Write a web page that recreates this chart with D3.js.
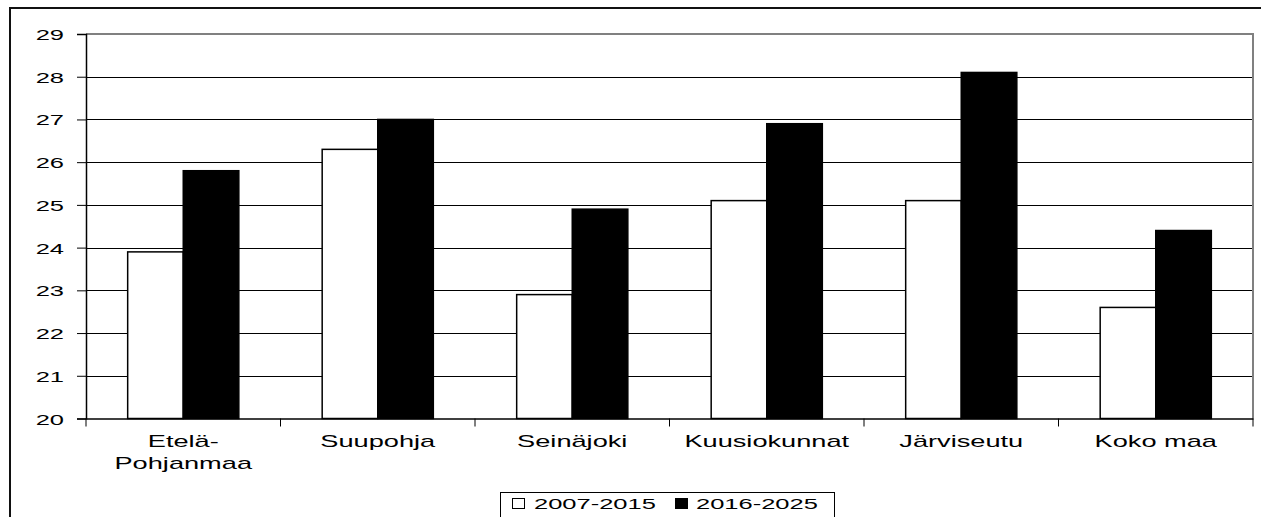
<!DOCTYPE html>
<html>
<head>
<meta charset="utf-8">
<script src="https://cdn.jsdelivr.net/npm/d3@7"></script>
<style>
  html, body { margin: 0; padding: 0; background: #fff; }
  svg { display: block; }
  text { font-family: "Liberation Sans", Arial, sans-serif; fill: #000; }
</style>
</head>
<body>
<svg id="chart" width="1261" height="517"></svg>
<script>
const categories = ["Etelä-\nPohjanmaa", "Suupohja", "Seinäjoki", "Kuusiokunnat", "Järviseutu", "Koko maa"];
const seriesNames = ["2007-2015", "2016-2025"];
const values2007_2015 = [23.9, 26.3, 22.9, 25.1, 25.1, 22.6];
const values2016_2025 = [25.8, 27.0, 24.9, 26.9, 28.1, 24.4];
const yTicks = [20, 21, 22, 23, 24, 25, 26, 27, 28, 29];
const seriesValues = [values2007_2015, values2016_2025];
const seriesFill = ["#ffffff", "#000000"];

const svg = d3.select("#chart");
const SX = 1.7; // horizontal stretch of the original text rendering

const plot = { left: 86, right: 1253, top: 34, bottom: 418.5 };

// outer frame (top and left edges visible)
svg.append("line").attr("x1", 10).attr("x2", 1261).attr("y1", 8).attr("y2", 8)
  .attr("stroke", "#111").attr("stroke-width", 2);
svg.append("line").attr("x1", 10).attr("x2", 10).attr("y1", 7).attr("y2", 517)
  .attr("stroke", "#111").attr("stroke-width", 2);

const y = d3.scaleLinear().domain([20, 29]).range([plot.bottom, plot.top]);
const x0 = d3.scaleBand().domain(categories).range([plot.left, plot.right]).padding(0);
const bw = x0.bandwidth() / 3.5;
const x1 = d3.scaleBand().domain(seriesNames).range([0.75 * bw, 2.75 * bw]).padding(0);

// gridlines
svg.append("g").selectAll("line").data(yTicks.filter(t => t > 20 && t < 29)).join("line")
  .attr("x1", plot.left).attr("x2", plot.right)
  .attr("y1", d => Math.round(y(d)) + 0.5).attr("y2", d => Math.round(y(d)) + 0.5)
  .attr("stroke", "#000").attr("stroke-width", 1);

// plot border top & right (gray)
svg.append("path")
  .attr("d", `M${plot.left},${plot.top} H${plot.right} V${plot.bottom}`)
  .attr("fill", "none").attr("stroke", "#808080").attr("stroke-width", 2);

// bars
categories.forEach((c, i) => {
  seriesNames.forEach((s, j) => {
    const v = seriesValues[j][i];
    svg.append("rect")
      .attr("x", x0(c) + x1(s))
      .attr("y", y(v))
      .attr("width", x1.bandwidth())
      .attr("height", y(20) - y(v))
      .attr("fill", seriesFill[j])
      .attr("stroke", "#000")
      .attr("stroke-width", 1.5);
  });
});

// y axis
const yAxis = d3.axisLeft(y).tickValues(yTicks).tickSize(9).tickFormat(d3.format("d"));
const gy = svg.append("g").attr("transform", `translate(${plot.left},0)`).call(yAxis);
gy.select(".domain").attr("stroke", "#000").attr("stroke-width", 1.5);
gy.selectAll(".tick line").attr("stroke", "#000");
gy.selectAll(".tick text").remove();
gy.selectAll(".tick").append("text")
  .attr("transform", `translate(-22,5.5) scale(${SX},1)`)
  .attr("text-anchor", "end")
  .style("font-size", "15px")
  .style("fill", "#000")
  .text(d => d);

// x axis
const xAxis = d3.axisBottom(x0).tickSize(0).tickFormat("");
const gx = svg.append("g").attr("transform", `translate(0,${plot.bottom})`).call(xAxis);
gx.select(".domain").attr("stroke", "#000").attr("stroke-width", 1.5);
gx.selectAll(".tick").remove();
// category boundary ticks
const bounds = categories.map(c => x0(c)).concat([plot.right]);
gx.append("g").selectAll("line").data(bounds).join("line")
  .attr("x1", d => d).attr("x2", d => d).attr("y1", 0).attr("y2", 8)
  .attr("stroke", "#000").attr("stroke-width", 1);

// category labels
categories.forEach(c => {
  const lines = c.split("\n");
  const cx = x0(c) + x0.bandwidth() / 2;
  lines.forEach((ln, k) => {
    svg.append("text")
      .attr("transform", `translate(${cx},${447 + k * 21.5}) scale(${SX},1)`)
      .attr("text-anchor", "middle")
      .style("font-size", "16px")
      .text(ln);
  });
});

// legend
const lg = svg.append("g");
lg.append("rect").attr("x", 500.5).attr("y", 492.5).attr("width", 334).attr("height", 40)
  .attr("fill", "#fff").attr("stroke", "#000").attr("stroke-width", 1);
const legendPos = [{ sq: 512, tx: 534 }, { sq: 675, tx: 696 }];
seriesNames.forEach((s, j) => {
  lg.append("rect").attr("x", legendPos[j].sq + 0.5).attr("y", 498.5).attr("width", 12).attr("height", 10)
    .attr("fill", seriesFill[j]).attr("stroke", "#000").attr("stroke-width", 1);
  lg.append("text")
    .attr("transform", `translate(${legendPos[j].tx},508.5) scale(${SX},1)`)
    .style("font-size", "15px")
    .text(s);
});
</script>
</body>
</html>
